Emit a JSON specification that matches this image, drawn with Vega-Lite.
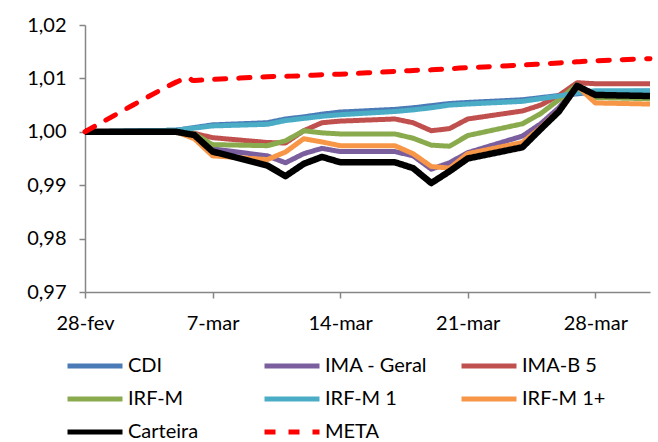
{
  "$schema": "https://vega.github.io/schema/vega-lite/v6.json",
  "width": 565,
  "height": 267,
  "autosize": {"type": "none"},
  "padding": {"left": 85, "top": 25, "right": 8, "bottom": 150},
  "background": "white",
  "data": {
    "values": [
      {"data": "2014-02-28", "CDI": 1.0000, "IMA - Geral": 1.0000, "IMA-B 5": 1.0000, "IRF-M": 1.0000, "IRF-M 1": 1.0000, "IRF-M 1+": 1.0000, "Carteira": 1.0000, "META": 1.0000},
      {"data": "2014-03-05", "CDI": 1.0003, "IMA - Geral": 1.0000, "IMA-B 5": 1.0000, "IRF-M": 1.0000, "IRF-M 1": 1.0003, "IRF-M 1+": 1.0000, "Carteira": 1.0000, "META": 1.0093},
      {"data": "2014-03-06", "CDI": 1.0008, "IMA - Geral": 0.9994, "IMA-B 5": 0.9997, "IRF-M": 0.9996, "IRF-M 1": 1.0007, "IRF-M 1+": 0.9987, "Carteira": 0.9994, "META": 1.0096},
      {"data": "2014-03-07", "CDI": 1.0013, "IMA - Geral": 0.9968, "IMA-B 5": 0.9989, "IRF-M": 0.9976, "IRF-M 1": 1.0011, "IRF-M 1+": 0.9955, "Carteira": 0.9963, "META": 1.0098},
      {"data": "2014-03-10", "CDI": 1.0017, "IMA - Geral": 0.9955, "IMA-B 5": 0.9980, "IRF-M": 0.9974, "IRF-M 1": 1.0014, "IRF-M 1+": 0.9948, "Carteira": 0.9937, "META": 1.0103},
      {"data": "2014-03-11", "CDI": 1.0024, "IMA - Geral": 0.9942, "IMA-B 5": 0.9979, "IRF-M": 0.9983, "IRF-M 1": 1.0021, "IRF-M 1+": 0.9962, "Carteira": 0.9917, "META": 1.0104},
      {"data": "2014-03-12", "CDI": 1.0028, "IMA - Geral": 0.9959, "IMA-B 5": 1.0002, "IRF-M": 1.0002, "IRF-M 1": 1.0025, "IRF-M 1+": 0.9987, "Carteira": 0.9940, "META": 1.0105},
      {"data": "2014-03-13", "CDI": 1.0033, "IMA - Geral": 0.9969, "IMA-B 5": 1.0017, "IRF-M": 0.9998, "IRF-M 1": 1.0029, "IRF-M 1+": 0.9981, "Carteira": 0.9953, "META": 1.0107},
      {"data": "2014-03-14", "CDI": 1.0037, "IMA - Geral": 0.9963, "IMA-B 5": 1.0020, "IRF-M": 0.9996, "IRF-M 1": 1.0032, "IRF-M 1+": 0.9974, "Carteira": 0.9943, "META": 1.0108},
      {"data": "2014-03-17", "CDI": 1.0042, "IMA - Geral": 0.9963, "IMA-B 5": 1.0024, "IRF-M": 0.9996, "IRF-M 1": 1.0038, "IRF-M 1+": 0.9974, "Carteira": 0.9943, "META": 1.0113},
      {"data": "2014-03-18", "CDI": 1.0045, "IMA - Geral": 0.9955, "IMA-B 5": 1.0017, "IRF-M": 0.9988, "IRF-M 1": 1.0041, "IRF-M 1+": 0.9959, "Carteira": 0.9932, "META": 1.0115},
      {"data": "2014-03-19", "CDI": 1.0049, "IMA - Geral": 0.9930, "IMA-B 5": 1.0002, "IRF-M": 0.9975, "IRF-M 1": 1.0045, "IRF-M 1+": 0.9935, "Carteira": 0.9904, "META": 1.0116},
      {"data": "2014-03-20", "CDI": 1.0053, "IMA - Geral": 0.9942, "IMA-B 5": 1.0006, "IRF-M": 0.9973, "IRF-M 1": 1.0050, "IRF-M 1+": 0.9932, "Carteira": 0.9926, "META": 1.0118},
      {"data": "2014-03-21", "CDI": 1.0055, "IMA - Geral": 0.9961, "IMA-B 5": 1.0024, "IRF-M": 0.9993, "IRF-M 1": 1.0052, "IRF-M 1+": 0.9959, "Carteira": 0.9950, "META": 1.0120},
      {"data": "2014-03-24", "CDI": 1.0060, "IMA - Geral": 0.9992, "IMA-B 5": 1.0039, "IRF-M": 1.0015, "IRF-M 1": 1.0057, "IRF-M 1+": 0.9980, "Carteira": 0.9971, "META": 1.0125},
      {"data": "2014-03-25", "CDI": 1.0064, "IMA - Geral": 1.0015, "IMA-B 5": 1.0050, "IRF-M": 1.0034, "IRF-M 1": 1.0062, "IRF-M 1+": 1.0008, "Carteira": 1.0005, "META": 1.0127},
      {"data": "2014-03-26", "CDI": 1.0068, "IMA - Geral": 1.0045, "IMA-B 5": 1.0068, "IRF-M": 1.0060, "IRF-M 1": 1.0067, "IRF-M 1+": 1.0040, "Carteira": 1.0038, "META": 1.0129},
      {"data": "2014-03-27", "CDI": 1.0071, "IMA - Geral": 1.0086, "IMA-B 5": 1.0092, "IRF-M": 1.0088, "IRF-M 1": 1.0073, "IRF-M 1+": 1.0086, "Carteira": 1.0086, "META": 1.0131},
      {"data": "2014-03-28", "CDI": 1.0075, "IMA - Geral": 1.0068, "IMA-B 5": 1.0090, "IRF-M": 1.0064, "IRF-M 1": 1.0077, "IRF-M 1+": 1.0054, "Carteira": 1.0069, "META": 1.0133},
      {"data": "2014-03-31", "CDI": 1.0076, "IMA - Geral": 1.0067, "IMA-B 5": 1.0090, "IRF-M": 1.0062, "IRF-M 1": 1.0077, "IRF-M 1+": 1.0052, "Carteira": 1.0067, "META": 1.0137}
    ]
  },
  "transform": [
    {"fold": ["CDI", "IMA - Geral", "IMA-B 5", "IRF-M", "IRF-M 1", "IRF-M 1+", "Carteira", "META"], "as": ["serie", "valor"]}
  ],
  "encoding": {
    "x": {
      "field": "data",
      "type": "temporal",
      "scale": {
        "type": "utc",
        "domain": [
          {"year": 2014, "month": 2, "date": 28, "utc": true},
          {"year": 2014, "month": 3, "date": 31, "utc": true}
        ]
      },
      "axis": {
        "title": null,
        "grid": false,
        "values": [
          {"year": 2014, "month": 2, "date": 28, "utc": true},
          {"year": 2014, "month": 3, "date": 7, "utc": true},
          {"year": 2014, "month": 3, "date": 14, "utc": true},
          {"year": 2014, "month": 3, "date": 21, "utc": true},
          {"year": 2014, "month": 3, "date": 28, "utc": true}
        ],
        "labelExpr": "utcdate(datum.value) + '-' + (utcmonth(datum.value) == 1 ? 'fev' : 'mar')",
        "labelFont": "Lato",
        "labelFontSize": 20,
        "labelColor": "#000000",
        "labelPadding": 15,
        "tickSize": 6,
        "tickColor": "#868686",
        "tickWidth": 1.5,
        "domainColor": "#868686",
        "domainWidth": 1.5,
        "labelFlush": false,
        "labelOverlap": false
      }
    },
    "y": {
      "field": "valor",
      "type": "quantitative",
      "scale": {"domain": [0.97, 1.02], "zero": false, "nice": false},
      "axis": {
        "title": null,
        "grid": false,
        "values": [0.97, 0.98, 0.99, 1.0, 1.01, 1.02],
        "labelExpr": "replace(format(datum.value, '.2f'), '.', ',')",
        "labelFont": "Lato",
        "labelFontSize": 20,
        "labelColor": "#000000",
        "labelPadding": 13,
        "tickSize": 6,
        "tickColor": "#868686",
        "tickWidth": 1.5,
        "domainColor": "#868686",
        "domainWidth": 1.5,
        "labelFlush": false,
        "labelOverlap": false
      }
    },
    "color": {
      "field": "serie",
      "type": "nominal",
      "scale": {
        "domain": ["CDI", "IMA - Geral", "IMA-B 5", "IRF-M", "IRF-M 1", "IRF-M 1+", "Carteira", "META"],
        "range": ["#4A7BB7", "#7A5E9E", "#C0504D", "#8AAA4E", "#4BACC6", "#F79646", "#000000", "#FF0000"]
      },
      "legend": {
        "title": null,
        "orient": "none",
        "legendX": -20,
        "legendY": 328,
        "direction": "horizontal",
        "columns": 3,
        "gridAlign": "all",
        "columnPadding": 31,
        "rowPadding": 7,
        "clipHeight": 26,
        "symbolType": "stroke",
        "symbolSize": 3025,
        "symbolStrokeWidth": 5,
        "labelFont": "Lato",
        "labelFontSize": 20,
        "labelColor": "#000000",
        "labelOffset": 3,
        "labelLimit": 200
      }
    },
    "strokeDash": {
      "field": "serie",
      "type": "nominal",
      "scale": {
        "domain": ["CDI", "IMA - Geral", "IMA-B 5", "IRF-M", "IRF-M 1", "IRF-M 1+", "Carteira", "META"],
        "range": [[1, 0], [1, 0], [1, 0], [1, 0], [1, 0], [1, 0], [1, 0], [11, 13]]
      },
      "legend": {
        "title": null,
        "orient": "none",
        "legendX": -20,
        "legendY": 328,
        "direction": "horizontal",
        "columns": 3,
        "gridAlign": "all",
        "columnPadding": 31,
        "rowPadding": 7,
        "clipHeight": 26,
        "symbolType": "stroke",
        "symbolSize": 3025,
        "symbolStrokeWidth": 5,
        "labelFont": "Lato",
        "labelFontSize": 20,
        "labelColor": "#000000",
        "labelOffset": 3,
        "labelLimit": 200
      }
    }
  },
  "layer": [
    {
      "transform": [{"filter": {"field": "serie", "oneOf": ["CDI", "IMA - Geral", "IMA-B 5", "IRF-M", "IRF-M 1", "IRF-M 1+"]}}],
      "mark": {"type": "line", "strokeWidth": 5, "strokeJoin": "round"}
    },
    {
      "transform": [{"filter": {"field": "serie", "equal": "Carteira"}}],
      "mark": {"type": "line", "strokeWidth": 6.5, "strokeJoin": "round"}
    },
    {
      "transform": [{"filter": {"field": "serie", "equal": "META"}}],
      "mark": {"type": "line", "strokeWidth": 5, "strokeJoin": "round", "strokeCap": "round", "interpolate": "cardinal"}
    }
  ],
  "config": {"view": {"stroke": null}}
}
